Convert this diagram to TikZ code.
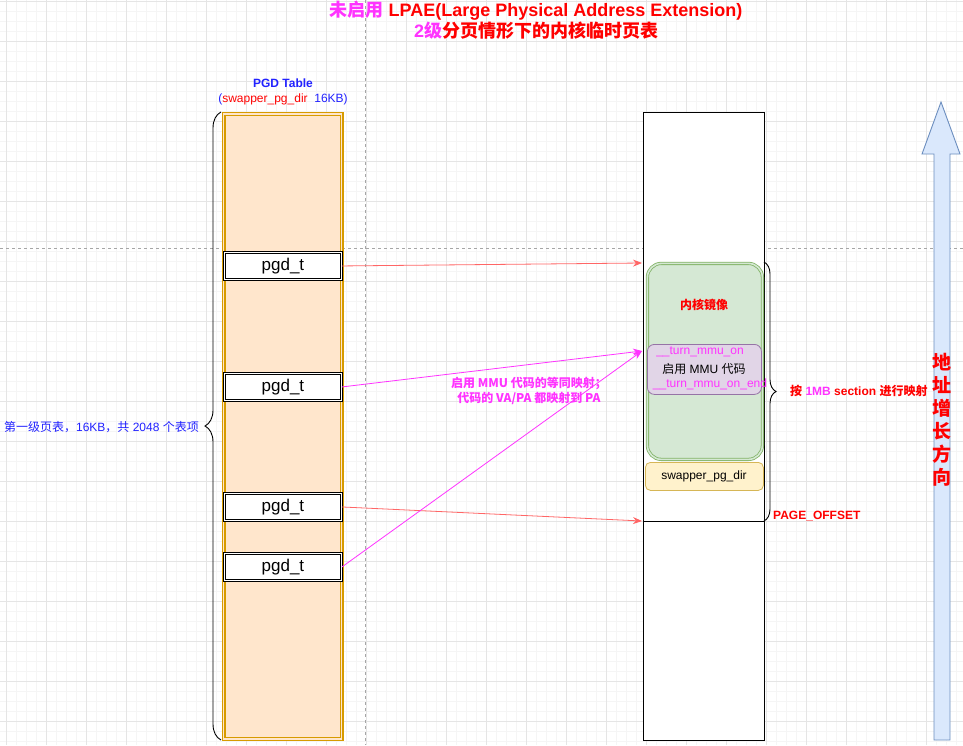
\documentclass[tikz,border=0pt]{standalone}
\usepackage{fontspec}
\setmainfont{Liberation Sans}
\newfontfamily\cjk{Noto Sans CJK SC}
\usetikzlibrary{arrows.meta,decorations.pathreplacing}
\definecolor{pinkred}{HTML}{FF6666}
\definecolor{mag}{HTML}{FF33FF}
\definecolor{tred}{HTML}{FF0000}
\definecolor{tblue}{HTML}{2222FF}
\definecolor{orgline}{HTML}{D79B00}
\definecolor{orgfill}{HTML}{FFE6CC}
\definecolor{grnline}{HTML}{82B366}
\definecolor{grnfill}{HTML}{D5E8D4}
\definecolor{purline}{HTML}{9673A6}
\definecolor{purfill}{HTML}{E1D5E7}
\definecolor{yelline}{HTML}{D6B656}
\definecolor{yelfill}{HTML}{FFF2CC}
\definecolor{arrline}{HTML}{6C8EBF}
\definecolor{arrfill}{HTML}{DAE8FC}
\tikzset{
  minorgrid/.style={draw=black!4, line width=0.6pt},
  majorgrid/.style={draw=black!10, line width=0.7pt},
  pagebreak/.style={draw=black!35, dashed, line width=0.7pt},
  small/.style={font=\fontsize{12}{14}\selectfont, inner sep=0pt},
  pgdbox/.style={draw=black, double=white, double distance=1.6pt, line width=0.9pt, fill=white, minimum width=117pt, minimum height=27pt, anchor=north west, inner sep=0pt, font=\fontsize{17}{20}\selectfont},
  redarrow/.style={draw=pinkred, line width=0.8pt, -{Stealth[length=9pt,width=7pt]}},
  magarrow/.style={draw=mag, line width=0.8pt, -{Stealth[length=9pt,width=7pt]}},
  rbox/.style={rounded corners=7pt, anchor=north west, inner sep=0pt},
}
\begin{document}
\begin{tikzpicture}[x=1pt,y=-1pt]
\useasboundingbox (0,0) rectangle (963,745);
\fill[white] (0,0) rectangle (963,745);
% grid
\foreach \x in {6,16,...,963} \draw[minorgrid] (\x,0) -- (\x,745);
\foreach \y in {1,11,...,745} \draw[minorgrid] (0,\y) -- (963,\y);
\foreach \x in {6,46,...,963} \draw[majorgrid] (\x,0) -- (\x,745);
\foreach \y in {1,41,...,745} \draw[majorgrid] (0,\y) -- (963,\y);
\draw[pagebreak] (365,0) -- (365,745);
\draw[pagebreak] (0,248) -- (963,248);

% title
\node[font=\fontsize{18}{21}\selectfont\bfseries, inner sep=0pt] (title1) at (536,11)
  {{\cjk\color{mag}未启用} \textcolor{tred}{LPAE(Large Physical Address Extension)}};
\node[font=\fontsize{18}{21}\selectfont\bfseries, inner sep=0pt] (title2) at (536,31)
  {\textcolor{mag}{2{\cjk 级}}{\cjk\color{tred}分页情形下的内核临时页表}};

% PGD table
\node[small, font=\fontsize{12}{14}\selectfont\bfseries, text=tblue] (pgdlabel) at (283,83) {PGD Table};
\node[small] (pgdsub) at (283,99) {\textcolor{tblue}{(}\textcolor{tred}{swapper\_pg\_dir}\textcolor{tblue}{\ \ 16KB)}};
\node[draw=orgline, double=orgfill, double distance=1.6pt, line width=1.3pt, fill=orgfill, anchor=north west, minimum width=118pt, minimum height=625pt, inner sep=0pt] (pgd) at (223,113.5) {};
\node[pgdbox] (p1) at (224,252) {pgd\_t};
\node[pgdbox] (p2) at (224,373) {pgd\_t};
\node[pgdbox] (p3) at (224,493) {pgd\_t};
\node[pgdbox] (p4) at (224,553) {pgd\_t};

% left brace
\draw[line width=0.9pt, decorate, decoration={brace, amplitude=16pt}] (221,740) -- (221,112);
\node[small, anchor=east, text=tblue] (leftlabel) at (199,427) {{\cjk 第一级页表，}16KB{\cjk ，共} 2048 {\cjk 个表项}};

% memory column
\node[draw=black, line width=0.9pt, fill=white, anchor=north west, minimum width=121pt, minimum height=628pt, inner sep=0pt] (mem) at (643,112) {};
\node[rbox, draw=grnline, double=grnfill, double distance=1.6pt, line width=0.8pt, fill=grnfill, minimum width=115pt, minimum height=196pt, rounded corners=14pt] (kimg) at (647,263) {};
\node[small, font=\fontsize{12}{14}\selectfont\bfseries\cjk, text=tred] (kimglabel) at (704,305) {内核镜像};
\node[rbox, draw=purline, fill=purfill, line width=0.8pt, minimum width=114pt, minimum height=50pt] (mmu) at (647,344) {};
\node[small, text=mag] (mmu1) at (700,352) {\_\_turn\_mmu\_on};
\node[small] (mmu2) at (704,369) {{\cjk 启用} MMU {\cjk 代码}};
\node[small, text=mag] (mmu3) at (710,384) {\_\_turn\_mmu\_on\_end};
\node[rbox, draw=yelline, fill=yelfill, line width=0.8pt, minimum width=118pt, minimum height=28pt, rounded corners=5pt] (swp) at (645,462) {};
\node[small] (swplabel) at (704,476) {swapper\_pg\_dir};
\coordinate (offL) at (643,521);
\coordinate (offR) at (764,521);
\draw[line width=0.9pt] (offL) -- (offR);

% right brace
\draw[line width=0.9pt, decorate, decoration={brace, amplitude=12pt}] (764,262) -- (764,521);
\node[small, anchor=west, font=\fontsize{12}{14}\selectfont\bfseries] (rightlabel) at (790,391)
  {{\cjk\color{tred}按} \textcolor{mag}{1MB} \textcolor{tred}{section {\cjk 进行映射}}};
\node[small, anchor=west, font=\fontsize{12}{14}\selectfont\bfseries, text=tred] (pageoff) at (773,516) {PAGE\_OFFSET};

% arrows
\coordinate (t1) at (642,263);
\coordinate (t2) at (642,351);
\coordinate (t3) at (642,521);
\draw[redarrow] (p1.east) -- (t1);
\draw[magarrow] (p2.east) -- (t2);
\draw[redarrow] (p3.east) -- (t3);
\draw[magarrow] (p4.east) -- (t2);
\node[small, font=\fontsize{12}{15}\selectfont\bfseries\cjk, text=mag, align=center] (midlabel) at (529,391)
  {启用 MMU 代码的等同映射；\\代码的 VA/PA 都映射到 PA};

% growth arrow
\draw[draw=arrline, fill=arrfill, line width=0.9pt]
  (934,740) -- (934,154) -- (922,154) -- (941,102) -- (960,154) -- (950,154) -- (950,740) -- cycle;
\node[font=\fontsize{19}{23}\selectfont\bfseries\cjk, text=tred, align=center, inner sep=0pt] (growth) at (942,420)
  {地\\址\\增\\长\\方\\向};
\end{tikzpicture}
\end{document}
